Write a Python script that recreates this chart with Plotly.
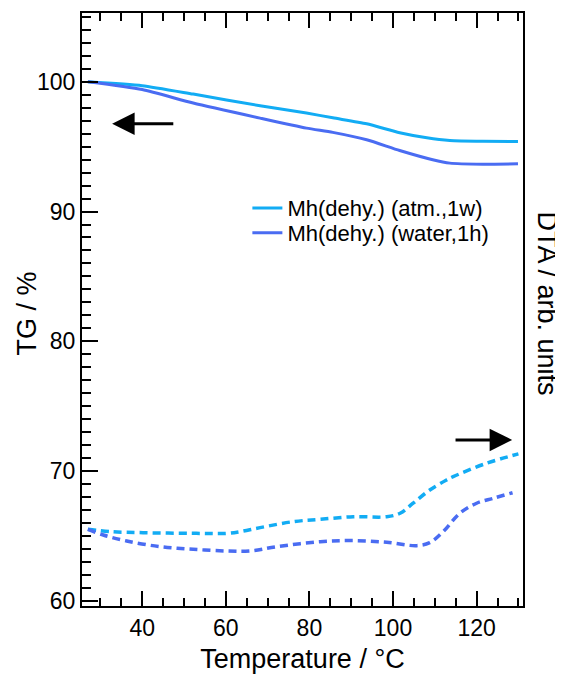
import plotly.graph_objects as go

# TG data (%)
T_tg_atm = [27.0, 40.0, 52.2, 68.2, 79.3, 85.6, 93.7, 101.6, 108.1, 113.6, 121.5, 129.9]
tg_atm = [100.0, 99.7, 99.05, 98.15, 97.59, 97.22, 96.76, 96.07, 95.68, 95.47, 95.41, 95.40]
T_tg_water = [27.0, 40.0, 52.2, 68.2, 79.3, 85.6, 93.7, 101.6, 109.5, 113.6, 121.5, 129.9]
tg_water = [100.0, 99.4, 98.36, 97.2, 96.43, 96.1, 95.53, 94.70, 93.99, 93.73, 93.65, 93.68]

# DTA data (arb. units, plotted on the TG scale)
T_dta_atm = [27.0, 32.3, 40.2, 52.1, 60.2, 63.4, 68.2, 76.1, 82.6, 90.5, 98.5, 101.7, 104.8, 108.8, 112.8, 114.4, 122.4, 130.0]
dta_atm = [65.51, 65.33, 65.25, 65.20, 65.20, 65.33, 65.64, 66.10, 66.28, 66.48, 66.48, 66.75, 67.52, 68.54, 69.31, 69.57, 70.60, 71.32]
T_dta_water = [27.0, 30.7, 36.3, 44.3, 52.2, 60.2, 65.8, 72.2, 82.6, 90.5, 98.5, 105.7, 108.8, 112.0, 116.0, 120.0, 124.0, 128.6]
dta_water = [65.51, 65.07, 64.61, 64.17, 63.97, 63.84, 63.84, 64.17, 64.56, 64.64, 64.51, 64.25, 64.48, 65.33, 66.75, 67.52, 67.90, 68.33]

names = ["Mh(dehy.) (atm.,1w)", "Mh(dehy.) (water,1h)"]
colors = ["#12ACF4", "#4A6CF2"]

FONT = "Liberation Sans, Arial, sans-serif"

fig = go.Figure()
fig.add_trace(go.Scatter(x=T_tg_atm, y=tg_atm, mode="lines", name=names[0], legend="legend",
                         line=dict(color=colors[0], width=3, shape="spline", smoothing=0.6)))
fig.add_trace(go.Scatter(x=T_tg_water, y=tg_water, mode="lines", name=names[1], legend="legend2",
                         line=dict(color=colors[1], width=3, shape="spline", smoothing=0.6)))
fig.add_trace(go.Scatter(x=T_dta_atm, y=dta_atm, mode="lines", showlegend=False,
                         line=dict(color=colors[0], width=3.5, dash="8px,5px", shape="spline")))
fig.add_trace(go.Scatter(x=T_dta_water, y=dta_water, mode="lines", showlegend=False,
                         line=dict(color=colors[1], width=3.5, dash="8px,5px", shape="spline")))

axis_common = dict(showline=True, linecolor="black", linewidth=2, showgrid=False,
                   zeroline=False, ticks="inside", tickcolor="black", tickwidth=2,
                   automargin=False,
                   tickfont=dict(family=FONT, size=23, color="black"))

fig.update_xaxes(range=[25.6, 131.1], tickvals=[40, 60, 80, 100, 120], ticklen=15,
                 mirror="allticks",
                 minor=dict(dtick=5, tick0=0, ticks="inside", ticklen=8, tickwidth=2, tickcolor="black"),
                 title=dict(text="Temperature / °C", font=dict(family=FONT, size=27, color="black"), standoff=10),
                 **axis_common)
fig.update_yaxes(range=[59.6, 105.3], tickvals=[60, 70, 80, 90, 100], ticklen=16,
                 mirror=True,
                 minor=dict(dtick=1, tick0=0, ticks="inside", ticklen=9, tickwidth=2, tickcolor="black"),
                 **axis_common)

fig.add_annotation(text="TG / %", textangle=-90, xref="paper", yref="paper",
                   x=0.0, xshift=-56, y=0.5, yshift=-4, showarrow=False, xanchor="center", yanchor="middle",
                   font=dict(family=FONT, size=27, color="black"))
fig.add_annotation(text="DTA / arb. units", textangle=90, xref="paper", yref="paper",
                   x=1.0, xshift=24, y=0.5, yshift=6, showarrow=False, xanchor="center", yanchor="middle",
                   font=dict(family=FONT, size=27, color="black"))

# arrows
fig.add_annotation(x=32.8, y=96.76, ax=47.8, ay=96.76, xref="x", yref="y", axref="x", ayref="y",
                   text="", showarrow=True, arrowhead=2, arrowsize=1.5, arrowwidth=3, arrowcolor="black")
fig.add_annotation(x=128.5, y=72.4, ax=114.6, ay=72.4, xref="x", yref="y", axref="x", ayref="y",
                   text="", showarrow=True, arrowhead=2, arrowsize=1.5, arrowwidth=3, arrowcolor="black")

leg_common = dict(x=0.375, xanchor="left", yanchor="middle", bgcolor="rgba(0,0,0,0)",
                  font=dict(family=FONT, size=22, color="black"), itemwidth=30)

# page has an 8px body margin, so the figure is drawn 8px smaller and offset
fig.update_layout(width=555, height=673,
                  margin=dict(l=74, r=40, t=5, b=75),
                  plot_bgcolor="white", paper_bgcolor="white",
                  font=dict(family=FONT, color="black"),
                  legend=dict(y=0.671, **leg_common),
                  legend2=dict(y=0.629, **leg_common))

fig.write_html("out.html")
